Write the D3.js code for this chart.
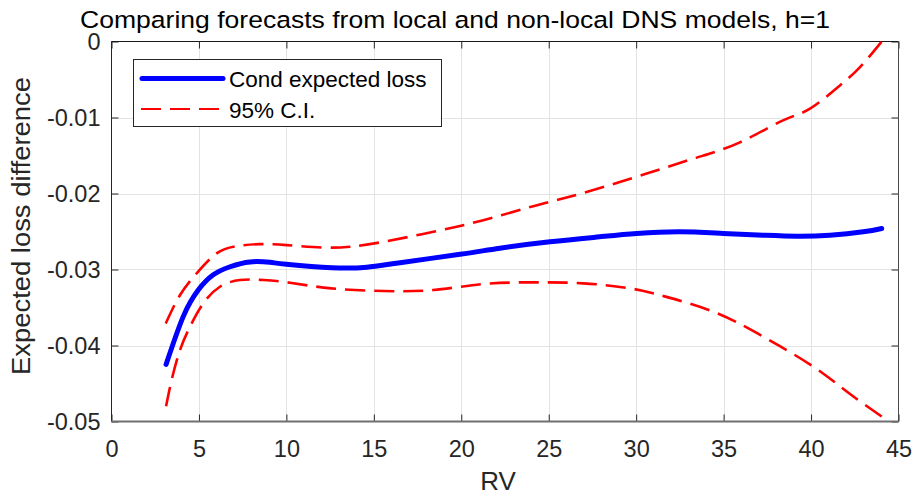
<!DOCTYPE html>
<html>
<head>
<meta charset="utf-8">
<script src="https://cdn.jsdelivr.net/npm/d3@7"></script>
<style>
  html, body { margin: 0; padding: 0; background: #fff; }
  svg { display: block; font-family: "Liberation Sans", Arial, sans-serif; }
</style>
</head>
<body>
<svg id="chart" width="913" height="499"></svg>
<script>
// Conditional expected loss difference (local vs non-local DNS), h=1
const meanRV = [3.12, 4.1, 4.96, 5.82, 6.78, 7.92, 9.06, 10.0, 12.6, 14.6, 16.5, 19.93, 22.2, 25.07, 27.9, 30.03, 32.5, 34.98, 37.27, 39.2, 41.08, 42.98, 44.04];
const meanLoss = [-0.0425, -0.0362, -0.0327, -0.0307, -0.02964, -0.0290, -0.02906, -0.0293, -0.02977, -0.0297, -0.0291, -0.0280, -0.0272, -0.02636, -0.0257, -0.02526, -0.02504, -0.02526, -0.02548, -0.02561, -0.02548, -0.02504, -0.0246];

const upperRV = [3.1, 3.92, 4.87, 6.01, 7.16, 8.49, 10.02, 12.0, 13.64, 15.54, 18.4, 21.26, 24.12, 26.98, 30.6, 33.46, 35.9, 38.4, 39.94, 41.65, 42.8, 44.04];
const upperLoss = [-0.0371, -0.03336, -0.0305, -0.02788, -0.02692, -0.02666, -0.02679, -0.0271, -0.02701, -0.02636, -0.02504, -0.02351, -0.02167, -0.01992, -0.01738, -0.01528, -0.0133, -0.01038, -0.00884, -0.00578, -0.00337, 0.0];

const lowerRV = [3.12, 3.44, 3.92, 4.49, 5.25, 6.2, 7.35, 8.68, 10.2, 12.55, 15.54, 18.4, 21.26, 24.12, 26.98, 29.65, 31.55, 34.41, 37.27, 40.13, 42.04, 44.04];
const lowerLoss = [-0.048, -0.04452, -0.04058, -0.03752, -0.03445, -0.03227, -0.03139, -0.03139, -0.03174, -0.03248, -0.03283, -0.0327, -0.03191, -0.03169, -0.03182, -0.03248, -0.03349, -0.03555, -0.03884, -0.04278, -0.04606, -0.04934];

const xTicks = [0, 5, 10, 15, 20, 25, 30, 35, 40, 45];
const yTicks = [0, -0.01, -0.02, -0.03, -0.04, -0.05];
const yTickLabels = ["0", "-0.01", "-0.02", "-0.03", "-0.04", "-0.05"];

const titleText = "Comparing forecasts from local and non-local DNS models, h=1";
const xLabelText = "RV";
const yLabelText = "Expected loss difference";
const legendLabels = ["Cond expected loss", "95% C.I."];

const svg = d3.select("#chart");
const plotL = 111.5, plotR = 898.5, plotT = 41.5, plotB = 421.5;

const x = d3.scaleLinear().domain([0, 45]).range([plotL, plotR]);
const y = d3.scaleLinear().domain([-0.05, 0]).range([plotB, plotT]);

// grid
const grid = svg.append("g");
grid.selectAll("line.vx").data(xTicks.slice(1, -1)).join("line")
  .attr("x1", d => Math.round(x(d)) + 0.5).attr("x2", d => Math.round(x(d)) + 0.5)
  .attr("y1", plotT).attr("y2", plotB)
  .attr("stroke", "#e3e3e3").attr("stroke-width", 1);
grid.selectAll("line.hy").data(yTicks.slice(1, -1)).join("line")
  .attr("y1", d => Math.round(y(d)) + 0.5).attr("y2", d => Math.round(y(d)) + 0.5)
  .attr("x1", plotL).attr("x2", plotR)
  .attr("stroke", "#e3e3e3").attr("stroke-width", 1);

// axes with inward ticks on all four sides
const tickLen = 7;
const axB = svg.append("g").attr("transform", `translate(0,${plotB})`)
  .call(d3.axisBottom(x).tickValues(xTicks).tickSizeInner(-tickLen).tickSizeOuter(0).tickPadding(19));
const axT = svg.append("g").attr("transform", `translate(0,${plotT})`)
  .call(d3.axisTop(x).tickValues(xTicks).tickSizeInner(-tickLen).tickSizeOuter(0).tickFormat(""));
const axL = svg.append("g").attr("transform", `translate(${plotL},0)`)
  .call(d3.axisLeft(y).tickValues(yTicks).tickSizeInner(-tickLen).tickSizeOuter(0).tickPadding(11)
    .tickFormat((d, i) => yTickLabels[i]));
const axR = svg.append("g").attr("transform", `translate(${plotR},0)`)
  .call(d3.axisRight(y).tickValues(yTicks).tickSizeInner(-tickLen).tickSizeOuter(0).tickFormat(""));

[axB, axT, axL, axR].forEach(a => {
  a.select(".domain").remove();
  a.selectAll(".tick line").attr("stroke", "#262626");
  a.selectAll(".tick text").attr("fill", "#262626").style("font-size", "23.5px")
    .style("font-family", "'Liberation Sans', Arial, sans-serif");
});
axB.selectAll(".tick text").attr("dy", "0.71em");
axL.selectAll(".tick text").attr("dy", "0.36em");

// axis box
svg.append("line").attr("x1", plotL).attr("x2", plotR).attr("y1", plotT).attr("y2", plotT)
  .attr("stroke", "#1a1a1a").attr("stroke-width", 1.2);
svg.append("line").attr("x1", plotL).attr("x2", plotL).attr("y1", plotT).attr("y2", plotB)
  .attr("stroke", "#262626").attr("stroke-width", 1);
svg.append("line").attr("x1", plotL).attr("x2", plotR).attr("y1", plotB).attr("y2", plotB)
  .attr("stroke", "#6f6f6f").attr("stroke-width", 2);
svg.append("line").attr("x1", plotR).attr("x2", plotR).attr("y1", plotT).attr("y2", plotB)
  .attr("stroke", "#4a4a4a").attr("stroke-width", 1);

// curves: smooth natural splines through the sampled points
const line = d3.line().x(d => x(d[0])).y(d => y(d[1])).curve(d3.curveNatural);
const zip = (a, b) => a.map((v, i) => [v, b[i]]);

const dash = "20,9";
svg.append("path").datum(zip(upperRV, upperLoss)).attr("d", line)
  .attr("fill", "none").attr("stroke", "#ff0000").attr("stroke-width", 2.6).attr("stroke-dasharray", dash);
svg.append("path").datum(zip(lowerRV, lowerLoss)).attr("d", line)
  .attr("fill", "none").attr("stroke", "#ff0000").attr("stroke-width", 2.6).attr("stroke-dasharray", dash);
svg.append("path").datum(zip(meanRV, meanLoss)).attr("d", line)
  .attr("fill", "none").attr("stroke", "#0000ff").attr("stroke-width", 5)
  .attr("stroke-linecap", "round").attr("stroke-linejoin", "round");

// legend
const lg = svg.append("g");
lg.append("rect").attr("x", 133.5).attr("y", 59.5).attr("width", 308).attr("height", 67)
  .attr("fill", "#fff").attr("stroke", "#262626").attr("stroke-width", 1);
lg.append("line").attr("x1", 142).attr("x2", 223).attr("y1", 78.5).attr("y2", 78.5)
  .attr("stroke", "#0000ff").attr("stroke-width", 5).attr("stroke-linecap", "round");
lg.append("line").attr("x1", 141).attr("x2", 224).attr("y1", 109).attr("y2", 109)
  .attr("stroke", "#ff0000").attr("stroke-width", 2.2).attr("stroke-dasharray", dash);
lg.selectAll("text").data(legendLabels).join("text")
  .attr("x", 229).attr("y", (d, i) => 87 + i * 30.5)
  .attr("fill", "#000").style("font-size", "22.5px").text(d => d);

// titles
svg.append("text").attr("x", 455).attr("y", 28).attr("text-anchor", "middle")
  .attr("fill", "#000").style("font-size", "24.5px")
  .attr("textLength", 750).attr("lengthAdjust", "spacingAndGlyphs").text(titleText);
svg.append("text").attr("x", 498).attr("y", 490).attr("text-anchor", "middle")
  .attr("fill", "#262626").style("font-size", "26px").text(xLabelText);
svg.append("text").attr("transform", "translate(30,226) rotate(-90)").attr("text-anchor", "middle")
  .attr("fill", "#262626").style("font-size", "26px")
  .attr("textLength", 298).attr("lengthAdjust", "spacingAndGlyphs").text(yLabelText);
</script>
</body>
</html>
